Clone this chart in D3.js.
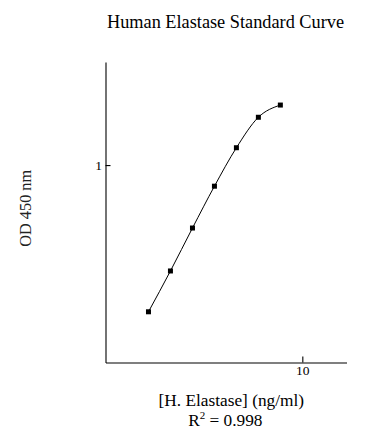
<!DOCTYPE html>
<html><head><meta charset="utf-8">
<script src="https://cdn.jsdelivr.net/npm/d3@7"></script>
<style>
body{margin:0;background:#fff;}
svg{display:block;font-family:"Liberation Serif","Times New Roman",serif;}
</style></head>
<body><svg id="c" width="388" height="444"></svg>
<script>
const concentrations = [0.078, 0.156, 0.3125, 0.625, 1.25, 2.5, 5];
const odValues = [0.186, 0.297, 0.486, 0.785, 1.22, 1.73, 1.99];
const xTicks = [10];
const yTicks = [1];
const xDomain = [0.0201, 40.3];
const yDomain = [0.104, 3.26];

(function () {
const svg = d3.select("#c");
const serif = "Liberation Serif, Times New Roman, serif";
const mLeft = 105.5, mRight = 346.5, mTop = 62, mBottom = 362.5;
const x = d3.scaleLog().domain(xDomain).range([mLeft, mRight]);
const y = d3.scaleLog().domain(yDomain).range([mBottom, mTop]);

svg.append("text").attr("x", 225.5).attr("y", 27.5).attr("text-anchor", "middle")
  .attr("font-size", 18.3).attr("fill", "#000").text("Human Elastase Standard Curve");

const xa = svg.append("g").attr("transform", `translate(0,${mBottom})`)
  .call(d3.axisBottom(x).tickValues(xTicks).tickFormat(d3.format("d")).tickSizeInner(-6).tickSizeOuter(0).tickPadding(3));
const ya = svg.append("g").attr("transform", `translate(${mLeft},0)`)
  .call(d3.axisLeft(y).tickValues(yTicks).tickFormat(d3.format("d")).tickSizeInner(-5).tickSizeOuter(0).tickPadding(3.5));
[xa, ya].forEach(g => {
  g.attr("font-family", serif).attr("font-size", 13.5);
  g.selectAll("path,line").attr("stroke", "#000").attr("stroke-width", 1.1);
  g.selectAll("text").attr("fill", "#000").style("font-family", serif).style("font-size", "13.5px");
});

const line = d3.line().x((d, i) => x(concentrations[i])).y(d => y(d)).curve(d3.curveMonotoneX);
svg.append("path").attr("d", line(odValues)).attr("fill", "none").attr("stroke", "#000").attr("stroke-width", 1);

svg.selectAll("rect.pt").data(odValues).join("rect").attr("class", "pt")
  .attr("x", (d, i) => x(concentrations[i]) - 2.5).attr("y", d => y(d) - 2.5)
  .attr("width", 5).attr("height", 5).attr("fill", "#000");

svg.append("text").attr("transform", "translate(31,208.3) rotate(-90)").attr("text-anchor", "middle")
  .attr("font-size", 16.3).attr("fill", "#222").text("OD 450 nm");

svg.append("text").attr("x", 231.3).attr("y", 405.5).attr("text-anchor", "middle")
  .attr("font-size", 17.3).attr("fill", "#000").text("[H. Elastase] (ng/ml)");

const r = svg.append("text").attr("x", 225.3).attr("y", 426).attr("text-anchor", "middle")
  .attr("font-size", 17.3).attr("fill", "#000");
r.append("tspan").text("R");
r.append("tspan").attr("dy", -7).attr("font-size", 11).text("2");
r.append("tspan").attr("dy", 7).text(" = 0.998");
})();
</script></body></html>
